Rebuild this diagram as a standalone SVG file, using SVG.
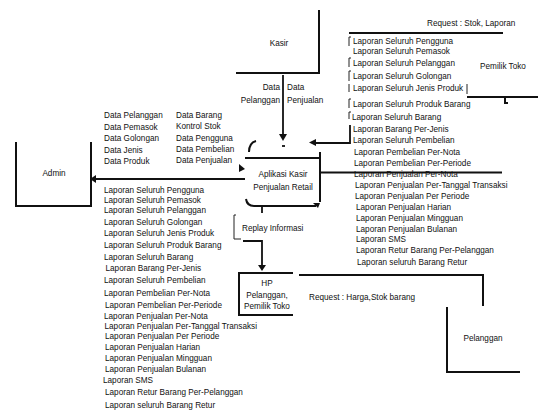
<svg xmlns="http://www.w3.org/2000/svg" width="538" height="411" viewBox="0 0 538 411">
<style>
text{font-family:"Liberation Sans",Arial,sans-serif;font-size:8.2px;fill:#111}
.m{text-anchor:middle}
.e{text-anchor:end}
.ent{stroke:#111;stroke-width:2;fill:none}
.c{stroke:#111;stroke-width:1.8;fill:none}
.t{stroke:#222;stroke-width:1;fill:none}
.ah{fill:#111;stroke:none}
</style>
<rect width="538" height="411" fill="#fff"/>

<g id="kasir">
<path class="ent" d="M319 10V73H236"/>
<text class="m" x="279" y="46">Kasir</text>
</g>

<g id="pemilik-toko">
<path class="ent" d="M349 33H503"/>
<path class="ent" d="M467 97H538"/>
<path class="ent" d="M505 98V103H508"/>
<text class="m" x="503" y="69">Pemilik Toko</text>
</g>

<g id="admin">
<path class="ent" d="M16 142V206H91V142"/>
<text class="m" x="54" y="176">Admin</text>
</g>

<g id="proses">
<path class="ent" d="M245 158H320"/>
<path class="ent" d="M320 152V202"/>
<path class="ent" d="M249 152Q249 143 256 141"/>
<path class="ent" d="M246 199Q247 206 254 206H316"/>
<text class="m" x="283" y="177">Aplikasi Kasir</text>
<text class="m" x="283" y="190">Penjualan Retail</text>
</g>

<g id="hp">
<path class="ent" d="M293 273H239V315H293"/>
<text class="m" x="267" y="286">HP</text>
<text class="m" x="267" y="298">Pelanggan,</text>
<text class="m" x="267" y="309">Pemilik Toko</text>
</g>

<g id="pelanggan">
<path class="ent" d="M447 307V372H520"/>
<text class="m" x="483" y="341">Pelanggan</text>
</g>

<g id="connectors">
<!-- Kasir to process -->
<path class="c" d="M283 75V134"/>
<path class="ah" d="M279 134H287L283 141Z"/>
<path class="c" d="M282 146H285"/>
<text class="e" x="280" y="90">Data</text>
<text class="e" x="280" y="103">Pelanggan</text>
<text x="287" y="90">Data</text>
<text x="287" y="103">Penjualan</text>

<!-- Pemilik Toko to process -->
<path class="t" d="M349 37V46M349 58V67M349 71V81M349 84V92M349 99V108M349 112V119"/>
<path class="t" d="M349 37H351M349 58H351M349 71H351M349 99H351M349 112H351"/>
<path class="t" d="M467 84V94"/>
<path class="c" d="M350 125V143H316"/>
<path class="ah" d="M316 139V146L309 142.5Z"/>
<text x="427" y="26">Request :  Stok, Laporan</text>

<!-- Admin to process -->
<path class="ah" d="M239 164L245 169L239 172Z"/>
<!-- process to Admin -->
<path class="c" d="M245 179H95"/>
<path class="ah" d="M96 175V183L90 179Z"/>

<!-- process to HP -->
<path class="c" d="M262 206V213"/>
<path class="ah" d="M313 203H320L318 208Z"/>
<path class="t" d="M236 215H234V239H241"/>
<path class="c" d="M243 241H262V266"/>
<path class="ah" d="M258 265H266L262 271Z"/>
<text x="242" y="231">Replay Informasi</text>

<!-- Pelanggan to HP -->
<path class="ent" d="M299 275H483V306"/>
<text x="309" y="300">Request : Harga,Stok barang</text>

<!-- Data labels Admin -> process -->
<text x="104" y="118">Data Pelanggan</text>
<text x="104" y="130">Data Pemasok</text>
<text x="104" y="141">Data Golongan</text>
<text x="104" y="153">Data Jenis</text>
<text x="104" y="164">Data Produk</text>
<text x="176" y="118">Data Barang</text>
<text x="176" y="129">Kontrol Stok</text>
<text x="176" y="141">Data Pengguna</text>
<text x="176" y="152">Data Pembelian</text>
<text x="176" y="163">Data Penjualan</text>

<!-- Laporan to Admin -->
<text x="104" y="193">Laporan Seluruh Pengguna</text>
<text x="104" y="202.5">Laporan Seluruh Pemasok</text>
<text x="104" y="213">Laporan Seluruh Pelanggan</text>
<text x="104" y="225">Laporan Seluruh Golongan</text>
<text x="104" y="236">Laporan Seluruh Jenis Produk</text>
<text x="104" y="248">Laporan Seluruh Produk Barang</text>
<text x="104" y="260">Laporan Seluruh Barang</text>
<text x="105.5" y="271">Laporan Barang Per-Jenis</text>
<text x="104" y="283">Laporan Seluruh Pembelian</text>
<text x="104" y="296">Laporan Pembelian Per-Nota</text>
<text x="105" y="308">Laporan Pembelian Per-Periode</text>
<text x="104" y="318.5">Laporan Penjualan Per-Nota</text>
<text x="104.5" y="328.5">Laporan Penjualan Per-Tanggal Transaksi</text>
<text x="105" y="339">Laporan Penjualan Per Periode</text>
<text x="105" y="350">Laporan Penjualan Harian</text>
<text x="105" y="360.5">Laporan Penjualan Mingguan</text>
<text x="105" y="371.5">Laporan Penjualan Bulanan</text>
<text x="103" y="383">Laporan SMS</text>
<text x="105" y="394.5">Laporan Retur Barang Per-Pelanggan</text>
<text x="105" y="407.5">Laporan seluruh Barang Retur</text>

<!-- Laporan to Pemilik Toko -->
<text x="353" y="44">Laporan Seluruh Pengguna</text>
<text x="353" y="54">Laporan Seluruh Pemasok</text>
<text x="353" y="66">Laporan Seluruh Pelanggan</text>
<text x="353" y="78.5">Laporan Seluruh Golongan</text>
<text x="353" y="91">Laporan Seluruh Jenis Produk</text>
<text x="353" y="107">Laporan Seluruh Produk Barang</text>
<text x="352" y="119.5">Laporan Seluruh Barang</text>
<text x="353" y="131.5">Laporan Barang Per-Jenis</text>
<text x="353" y="143">Laporan Seluruh Pembelian</text>
<text x="354" y="155">Laporan Pembelian Per-Nota</text>
<text x="354" y="166">Laporan Pembelian Per-Periode</text>
<text x="354" y="177">Laporan Penjualan Per-Nota</text>
<text x="355" y="188">Laporan Penjualan Per-Tanggal Transaksi</text>
<text x="355" y="199">Laporan Penjualan Per Periode</text>
<text x="356" y="210">Laporan Penjualan Harian</text>
<text x="356" y="220.5">Laporan Penjualan Mingguan</text>
<text x="356" y="231.5">Laporan Penjualan Bulanan</text>
<text x="356" y="241.5">Laporan SMS</text>
<text x="356" y="253">Laporan Retur Barang Per-Pelanggan</text>
<text x="357" y="264.5">Laporan seluruh Barang Retur</text>
<!-- process to Pemilik Toko (drawn over the list, as in the reference) -->
<path class="c" d="M320 172.5H502"/>
</g>
</svg>
